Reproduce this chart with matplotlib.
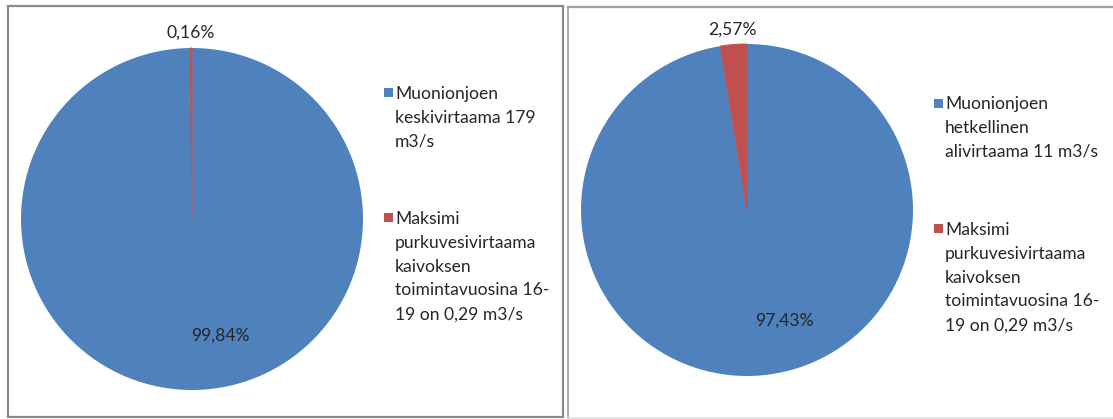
import matplotlib.pyplot as plt
from matplotlib.patches import Rectangle
from matplotlib.lines import Line2D

# Flow shares (%) for the two comparisons
left_values = [99.84, 0.16]
right_values = [97.43, 2.57]

left_labels = ["Muonionjoen\nkeskivirtaama 179\nm3/s",
               "Maksimi\npurkuvesivirtaama\nkaivoksen\ntoimintavuosina 16-\n19 on 0,29 m3/s"]
right_labels = ["Muonionjoen\nhetkellinen\nalivirtaama 11 m3/s",
                "Maksimi\npurkuvesivirtaama\nkaivoksen\ntoimintavuosina 16-\n19 on 0,29 m3/s"]

colors = ["#4F81BD", "#C0504D"]

W, H = 1113, 419
fig = plt.figure(figsize=(W / 100, H / 100), dpi=100)
fig.patch.set_facecolor("white")

plt.rcParams["font.family"] = ["Lato", "DejaVu Sans"]
FS = 12.6
TEXT = "#262626"


def fx(x):
    return x / W


def fy(y):
    return 1 - y / H


def px_axes(cx, cy, r):
    """Axes whose data range [-1,1] maps onto a circle of radius r px at (cx, cy) px (top-left origin)."""
    return fig.add_axes([(cx - r) / W, 1 - (cy + r) / H, 2 * r / W, 2 * r / H])


def fmt(v):
    return f"{v:.2f}".replace(".", ",") + "%"


def draw_pie(ax, values, label_pos):
    wedges, _ = ax.pie(values, colors=colors, startangle=90, counterclock=False,
                       wedgeprops=dict(linewidth=0))
    # keep very thin slices visible
    wedges[1].set_edgecolor(colors[1])
    wedges[1].set_linewidth(0.7)
    ax.set_xlim(-1, 1)
    ax.set_ylim(-1, 1)
    ax.set_aspect("equal")
    ax.axis("off")
    for v, (x, y) in zip(values, label_pos):
        ax.text(x, y, fmt(v), ha="center", va="center", fontsize=FS, color=TEXT,
                clip_on=False)


def draw_legend(x, ys, labels):
    for y, lab, c in zip(ys, labels, colors):
        fig.patches.append(Rectangle((fx(x), fy(y + 4.5)), 9 / W, 9 / H,
                                     transform=fig.transFigure, facecolor=c,
                                     edgecolor="none"))
        fig.text(fx(x + 11), fy(y - 7), lab, ha="left", va="top",
                 fontsize=FS, color=TEXT, linespacing=1.6)


def hline(x0, x1, y, color, lw):
    fig.add_artist(Line2D([fx(x0), fx(x1)], [fy(y), fy(y)], color=color,
                          linewidth=lw, transform=fig.transFigure))


def vline(x, y0, y1, color, lw):
    fig.add_artist(Line2D([fx(x), fx(x)], [fy(y0), fy(y1)], color=color,
                          linewidth=lw, transform=fig.transFigure))


# Left panel frame
fig.patches.append(Rectangle((fx(8), fy(417)), 555 / W, 411 / H,
                             transform=fig.transFigure, facecolor="none",
                             edgecolor="#8a8a8a", linewidth=1.6))
# Right panel frame (runs past the right edge)
hline(568, W + 5, 7, "#9c9c9c", 1.6)
vline(568, 7, 418, "#a0a0a0", 1.2)
hline(568, W + 5, 418, "#dedede", 1.2)

ax1 = px_axes(192, 219, 171)
draw_pie(ax1, left_values, [(0.165, -0.68), (-0.01, 1.09)])
draw_legend(384, [93, 218], left_labels)

ax2 = px_axes(747, 210, 166)
draw_pie(ax2, right_values, [(0.223, -0.669), (-0.09, 1.084)])
draw_legend(934, [103, 229], right_labels)

fig.savefig("out.png", dpi=100, facecolor="white")
